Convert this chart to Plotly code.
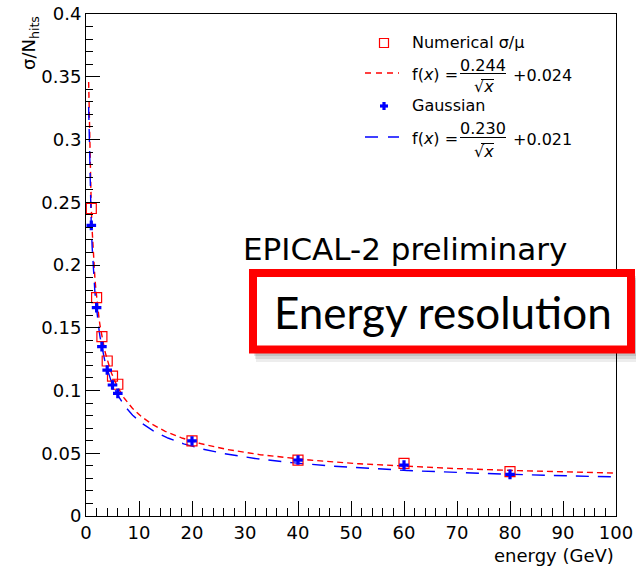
import numpy as np
import plotly.graph_objects as go

# ---- data ----
energy = [1, 2, 3, 4, 5, 6, 20, 40, 60, 80]
numerical = [0.245, 0.174, 0.143, 0.1235, 0.1115, 0.105, 0.0598, 0.0446, 0.042, 0.0353]
gaussian = [0.2316, 0.166, 0.135, 0.1163, 0.1044, 0.0977, 0.0598, 0.0446, 0.0406, 0.0332]

# fit parameters (from legend): f = a/sqrt(x) (+) b
fit_num = (0.244, 0.024)
fit_gau = (0.230, 0.021)
fit_range = (0.5, 100)

x_ticks = list(range(0, 101, 10))
y_ticks = [0, 0.05, 0.1, 0.15, 0.2, 0.25, 0.3, 0.35, 0.4]

FONT = "DejaVu Sans"
RED = "#ff0000"
BLUE = "#0000ff"

# plot-area geometry in pixels
L, R, T, B = 86, 616, 14, 516
W, H = 636, 567


def px(x):
    return (x - L) / (R - L)


def py(y):
    return (B - y) / (B - T)


xf = np.linspace(fit_range[0], fit_range[1], 600)


def fit(params):
    a, b = params
    return np.sqrt(a ** 2 / xf + b ** 2)


fig = go.Figure()
fig.add_trace(go.Scatter(x=xf, y=fit(fit_num), mode="lines",
                         line=dict(color=RED, width=1.4, dash="6px,4px"),
                         showlegend=False, hoverinfo="skip"))
fig.add_trace(go.Scatter(x=xf, y=fit(fit_gau), mode="lines",
                         line=dict(color=BLUE, width=1.4, dash="13px,9px"),
                         showlegend=False, hoverinfo="skip"))
fig.add_trace(go.Scatter(x=energy, y=numerical, mode="markers",
                         marker=dict(symbol="square-open", size=10, color=RED,
                                     line=dict(width=1.2, color=RED)),
                         showlegend=False))
fig.add_trace(go.Scatter(x=energy, y=gaussian, mode="markers",
                         marker=dict(symbol="cross", size=8, color=BLUE,
                                     line=dict(width=0)),
                         showlegend=False))

shapes = []
annotations = []


def text(x, y, s, size=16, xanchor="left", yanchor="middle", color="black",
         family=FONT, angle=0):
    annotations.append(dict(x=px(x), y=py(y), xref="paper", yref="paper",
                            text=s, showarrow=False, xanchor=xanchor,
                            yanchor=yanchor, textangle=angle,
                            font=dict(family=family, size=size, color=color)))


def line(x0, y0, x1, y1, color="black", width=1, dash="solid"):
    shapes.append(dict(type="line", xref="paper", yref="paper",
                       x0=px(x0), y0=py(y0), x1=px(x1), y1=py(y1),
                       line=dict(color=color, width=width, dash=dash),
                       layer="above"))


def rect(x0, y0, x1, y1, fill, lcolor=None, lwidth=0):
    shapes.append(dict(type="rect", xref="paper", yref="paper",
                       x0=px(x0), x1=px(x1), y0=py(y1), y1=py(y0),
                       line=dict(color=lcolor or "rgba(0,0,0,0)", width=lwidth),
                       fillcolor=fill, layer="above"))


# ---- legend (manual, to reproduce the stacked fractions) ----
rect(379.5, 38.5, 388.5, 47.5, "rgba(0,0,0,0)", RED, 1.2)
text(410, 43, "Numerical σ/μ")

line(365, 73, 399, 73, RED, 1.4, "6px,5px")
text(410, 74, "f(<i>x</i>) =")
text(483, 65, "0.244", xanchor="center")
line(460, 73.5, 506, 73.5)
text(484, 87, "√<i>x</i>", xanchor="center")
line(481, 79.5, 494, 79.5, width=1)
text(511, 75, "+0.024")

# Gaussian cross
rect(380, 104.4, 388, 107.6, BLUE)
rect(382.4, 102, 385.6, 110, BLUE)
text(410, 106, "Gaussian")

line(365, 137, 399, 137, BLUE, 1.4, "13px,10px")
text(410, 138, "f(<i>x</i>) =")
text(483, 128, "0.230", xanchor="center")
line(460, 137.5, 506, 137.5)
text(484, 151, "√<i>x</i>", xanchor="center")
line(481, 143.5, 494, 143.5, width=1)
text(511, 139, "+0.021")

# ---- axis titles ----
text(30, 14, "σ/N<sub>hits</sub>", size=18, xanchor="center", yanchor="top",
     angle=-90)
text(616, 555, "energy (GeV)", size=18, xanchor="right")

# ---- overlays ----
text(241, 249, "EPICAL-2 preliminary", size=31)

# soft shadow under the title box
rect(256, 280, 642, 362, "rgba(0,0,0,0.07)")
rect(255, 278, 640, 359, "rgba(0,0,0,0.09)")
rect(254, 276, 638, 356, "rgba(0,0,0,0.10)")
# title box
rect(253, 273, 631, 349.5, "white", RED, 8)
text(443, 312, "Energy resolution", size=44, xanchor="center",
     family="Lato")

fig.update_layout(
    width=W, height=H,
    margin=dict(l=L, r=W - R, t=T, b=H - B, pad=0, autoexpand=False),
    paper_bgcolor="white", plot_bgcolor="white",
    showlegend=False,
    shapes=shapes, annotations=annotations,
    xaxis=dict(range=[0, 100], tickvals=x_ticks, ticks="inside", ticklen=15,
               tickcolor="black", tickwidth=1, automargin=False,
               minor=dict(dtick=2, ticks="inside", ticklen=8,
                          tickcolor="black", tickwidth=1),
               showline=True, linecolor="black", linewidth=1, mirror=True,
               showgrid=False, zeroline=False,
               tickfont=dict(family=FONT, size=18, color="black")),
    yaxis=dict(range=[0, 0.4], tickvals=y_ticks, ticks="inside", ticklen=14,
               tickcolor="black", tickwidth=1, automargin=False,
               minor=dict(dtick=0.01, ticks="inside", ticklen=7,
                          tickcolor="black", tickwidth=1),
               showline=True, linecolor="black", linewidth=1, mirror=True,
               showgrid=False, zeroline=False,
               tickfont=dict(family=FONT, size=18, color="black")),
)

fig.write_html("out.html", config={"displayModeBar": False},
               post_script="document.body.style.margin='0px';"
                           "document.body.style.overflow='hidden';")
